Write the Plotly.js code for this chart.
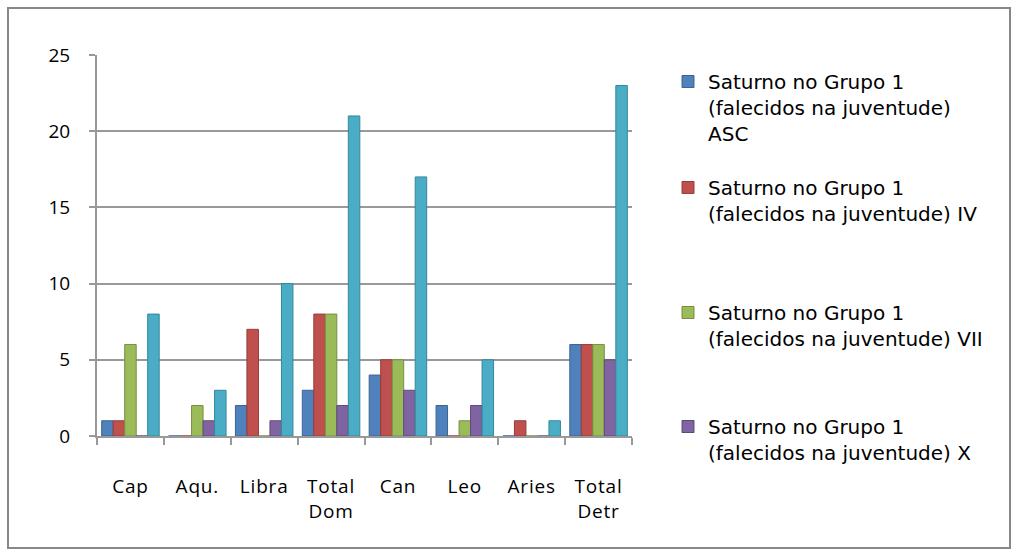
<!DOCTYPE html>
<html><head><meta charset="utf-8">
<script src="https://cdn.plot.ly/plotly-3.0.1.min.js"></script>
<style>
body{margin:0;background:#fff}#chart{width:1018px;height:556px}
.xtick text{letter-spacing:0.8px}
</style>
</head><body><div id="chart"></div>
<script>
const categories = ["Cap", "Aqu.", "Libra", "Total<br>Dom", "Can", "Leo", "Aries", "Total<br>Detr"];
const seriesNames = [
  "Saturno no Grupo 1<br>(falecidos na juventude)<br>ASC",
  "Saturno no Grupo 1<br>(falecidos na juventude) IV",
  "Saturno no Grupo 1<br>(falecidos na juventude) VII",
  "Saturno no Grupo 1<br>(falecidos na juventude) X",
  "Total"
];
const asc  = [1, 0, 2, 3, 4, 2, 0, 6];
const iv   = [1, 0, 7, 8, 5, 0, 1, 6];
const vii  = [6, 2, 0, 8, 5, 1, 0, 6];
const x    = [0, 1, 1, 2, 3, 2, 0, 5];
const tot  = [8, 3, 10, 21, 17, 5, 1, 23];
const yTicks = [0, 5, 10, 15, 20, 25];

const colors = ["#4F81BD", "#C0504D", "#9BBB59", "#8064A2", "#4BACC6"];
const lines  = ["#3A6491", "#963C3A", "#768F43", "#5F4A7A", "#35879C"];
const legendIds = ["legend", "legend2", "legend3", "legend4", "legend"];
const allSeries = [asc, iv, vii, x, tot];
const traces = allSeries.map((vals, i) => ({
  type: "bar", x: categories, y: vals, name: seriesNames[i],
  marker: {color: colors[i], line: {color: lines[i], width: 1}},
  showlegend: i < 4, legend: legendIds[i]
}));

const W0 = 97, W1 = 632, T = 55, B = 436;
const pw = W1 - W0, ph = B - T;
const FONT = "'Open Sans', Lato, 'Liberation Sans', sans-serif";
function leg(topPx) {
  return {
    x: (668 - W0) / pw, xanchor: "left", y: (B - topPx) / ph, yanchor: "top",
    font: {size: 20, family: "'DejaVu Sans', 'Open Sans', sans-serif", color: "#000"},
    itemwidth: 30, valign: "top", bgcolor: "rgba(0,0,0,0)", borderwidth: 0
  };
}
const layout = {
  width: 1018, height: 556,
  margin: {l: W0, r: 1018 - W1, t: T, b: 556 - B},
  paper_bgcolor: "#fff", plot_bgcolor: "#fff",
  barmode: "group", bargap: 0.14, bargroupgap: 0,
  font: {family: FONT, size: 19, color: "#000"},
  xaxis: {
    type: "category", showline: true, linecolor: "#999", linewidth: 2,
    ticks: "outside", tickson: "boundaries", ticklen: 7, tickwidth: 2, tickcolor: "#999",
    ticklabelstandoff: 32, tickfont: {size: 19}, showgrid: false
  },
  yaxis: {
    range: [0, 25], tickvals: yTicks, showline: true, linecolor: "#999", linewidth: 2,
    ticks: "outside", ticklen: 6, tickwidth: 2, tickcolor: "#999", ticklabelstandoff: 15,
    gridcolor: "#999", gridwidth: 2, zeroline: false, tickfont: {size: 19}
  },
  legend: leg(62), legend2: leg(168), legend3: leg(293), legend4: leg(407),
  shapes: [{
    type: "rect", xref: "paper", yref: "paper",
    x0: (8 - W0) / pw, x1: (1010 - W0) / pw, y0: (B - 548) / ph, y1: (B - 8) / ph,
    line: {color: "#888", width: 2}, fillcolor: "rgba(0,0,0,0)", layer: "below"
  }]
};
Plotly.newPlot("chart", traces, layout, {staticPlot: true});
</script></body></html>
